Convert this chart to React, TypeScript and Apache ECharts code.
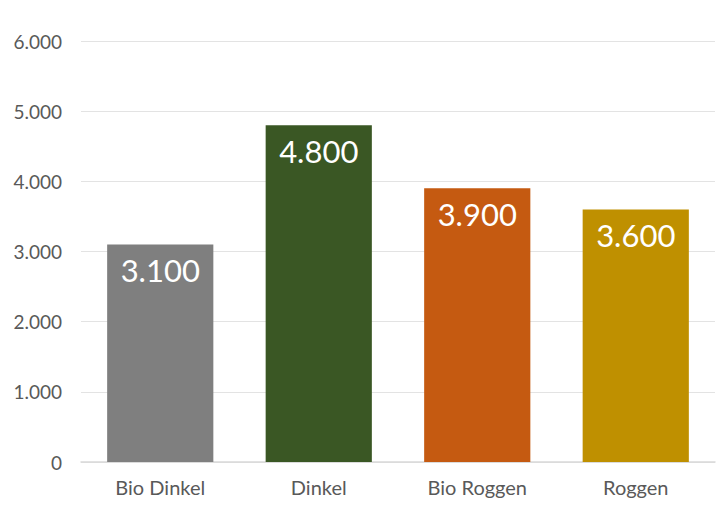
import React, { useEffect, useRef } from "react";
import * as echarts from "echarts";

const categories = ["Bio Dinkel", "Dinkel", "Bio Roggen", "Roggen"];
const values = [3100, 4800, 3900, 3600];
const colors = ["#7f7f7f", "#3a5724", "#c55a11", "#bf9000"];
const yTicks = [0, 1000, 2000, 3000, 4000, 5000, 6000];

const fmt = (v: number) => String(v).replace(/\B(?=(\d{3})+(?!\d))/g, ".");

export default function App() {
  const ref = useRef<HTMLDivElement>(null);
  useEffect(() => {
    document.body.style.margin = "0";
    const chart = echarts.init(ref.current!, null, { renderer: "svg" });
    chart.setOption({
      animation: false,
      backgroundColor: "#ffffff",
      textStyle: { fontFamily: "Lato, 'Open Sans', sans-serif" },
      grid: { left: 81, right: 2, top: 41, bottom: 45, containLabel: false },
      xAxis: {
        type: "category",
        data: categories,
        axisLine: { show: true, lineStyle: { color: "#d9d9d9", width: 1.5 } },
        axisTick: { show: false },
        axisLabel: { color: "#595959", fontSize: 20, margin: 15, fontFamily: "Lato, sans-serif" },
      },
      yAxis: {
        type: "value",
        min: yTicks[0],
        max: yTicks[yTicks.length - 1],
        interval: 1000,
        axisLine: { show: false },
        axisTick: { show: false },
        splitLine: { lineStyle: { color: "#e3e3e3", width: 1 } },
        axisLabel: {
          color: "#595959",
          fontSize: 19,
          margin: 19,
          fontFamily: "Lato, sans-serif",
          formatter: (v: number) => fmt(v),
        },
      },
      series: [
        {
          type: "bar",
          barCategoryGap: "33%",
          data: values.map((v, i) => ({ value: v, itemStyle: { color: colors[i] } })),
          label: {
            show: true,
            position: "insideTop",
            distance: 10,
            color: "#ffffff",
            fontSize: 31,
            fontFamily: "Lato, sans-serif",
            formatter: (p: any) => fmt(p.value),
          },
        },
      ],
    });
    return () => chart.dispose();
  }, []);
  return <div ref={ref} style={{ width: 717, height: 507 }} />;
}
